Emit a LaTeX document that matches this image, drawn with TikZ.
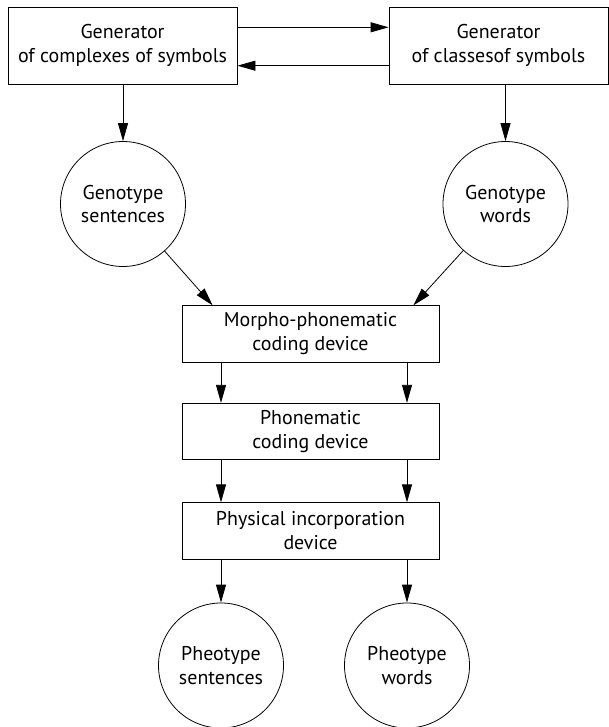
\documentclass[tikz,border=0pt]{standalone}
\usepackage{fontspec}
\setmainfont{PT Sans}
\usetikzlibrary{arrows.meta, calc}

\tikzset{
  box/.style={draw, line width=0.8bp, align=center, inner sep=0pt,
    minimum height=77bp},
  codebox/.style={box, minimum width=257bp, minimum height=56.5bp},
  blob/.style={draw, circle, line width=0.8bp, align=center, inner sep=0pt,
    minimum size=125bp},
  arr/.style={line width=0.8bp, -{Triangle[length=18bp, width=10bp]}}
}

\begin{document}
\begin{tikzpicture}[x=1bp, y=-1bp,
  every node/.style={font=\fontsize{20}{24}\selectfont}]
  \useasboundingbox (0, 0) rectangle (609, 727);

  % generators
  \node[box, minimum width=229bp] (gcomp) at (122.5, 45.5)
    {Generator\\of complexes of symbols};
  \node[box, minimum width=219bp] (gclass) at (498.5, 45.5)
    {Generator\\of classesof symbols};
  \coordinate (upper) at (0, 27.3);
  \coordinate (lower) at (0, 65.7);
  \draw[arr] (gcomp.east |- upper) -- (gclass.west |- upper);
  \draw[arr] (gclass.west |- lower) -- (gcomp.east |- lower);

  % genotype
  \node[blob] (gsent) at (123, 204) {Genotype\\sentences};
  \node[blob] (gword) at (505.5, 204) {Genotype\\words};
  \draw[arr] (gcomp.south -| gsent) -- (gsent);
  \draw[arr] (gclass.south -| gword) -- (gword);

  % coding devices
  \node[codebox] (morph) at (310.5, 334) {Morpho-phonematic\\coding device};
  \node[codebox] (phon) at (310.5, 431.5) {Phonematic\\coding device};
  \node[codebox] (phys) at (310.5, 531) {Physical incorporation\\device};
  \coordinate (ml) at ($(morph.north west) + (31, 0)$);
  \coordinate (mr) at ($(morph.north east) + (-26, 0)$);
  \draw[arr] (gsent) -- (ml);
  \draw[arr] (gword) -- (mr);

  % phenotype
  \node[blob] (psent) at (221, 665.5) {Pheotype\\sentences};
  \node[blob] (pword) at (407, 665.5) {Pheotype\\words};

  \foreach \c in {psent, pword} {
    \draw[arr] (morph.south -| \c) -- (phon.north -| \c);
    \draw[arr] (phon.south -| \c) -- (phys.north -| \c);
    \draw[arr] (phys.south -| \c) -- (\c);
  }

\end{tikzpicture}
\end{document}
